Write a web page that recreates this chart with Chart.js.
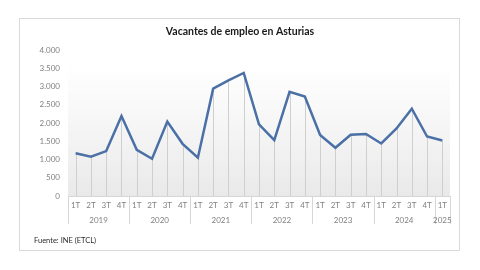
<!DOCTYPE html>
<html lang="es">
<head>
<meta charset="utf-8">
<title>Vacantes de empleo en Asturias</title>
<script src="https://cdn.jsdelivr.net/npm/chart.js@4.4.1/dist/chart.umd.min.js"></script>
<style>
  html, body { margin: 0; padding: 0; background: #ffffff; }
  .wrap { position: relative; width: 480px; height: 270px; }
  .frame { position: absolute; left: 19px; top: 18px; width: 441px; height: 233px; border: 1px solid #dadada; box-sizing: border-box; }
  canvas { position: absolute; left: 0; top: 0; }
</style>
</head>
<body>
<div class="wrap">
  <div class="frame"></div>
  <canvas id="chart" width="480" height="270"></canvas>
</div>
<script>
const quarters = ["1T", "2T", "3T", "4T", "1T", "2T", "3T", "4T", "1T", "2T", "3T", "4T",
  "1T", "2T", "3T", "4T", "1T", "2T", "3T", "4T", "1T", "2T", "3T", "4T", "1T"];
const years = ["2019", "2020", "2021", "2022", "2023", "2024", "2025"];
const quartersPerYear = [4, 4, 4, 4, 4, 4, 1];
const vacancies = [1170, 1075, 1230, 2190, 1265, 1020, 2040, 1430, 1050, 2940, 3170, 3370,
  1960, 1530, 2855, 2725, 1670, 1320, 1680, 1700, 1440, 1850, 2390, 1630, 1520];
const yTicks = [0, 500, 1000, 1500, 2000, 2500, 3000, 3500, 4000];
const chartTitle = "Vacantes de empleo en Asturias";
const sourceNote = "Fuente: INE (ETCL)";

const FONT = "Lato, 'Open Sans', sans-serif";
const lineColor = "#4a70a6";
const tickColor = "#808080";

function formatThousands(value) {
  return String(value).replace(/\B(?=(\d{3})+(?!\d))/g, ".");
}

// plot area gradient, white at top to light grey at the axis
const plotBackground = {
  id: "plotBackground",
  beforeDraw(chart) {
    const { ctx, chartArea } = chart;
    const top = chart.scales.y.getPixelForValue(3600);
    const grad = ctx.createLinearGradient(0, top, 0, chartArea.bottom);
    grad.addColorStop(0, "rgba(236,236,236,0)");
    grad.addColorStop(1, "#e9e9e9");
    ctx.save();
    ctx.fillStyle = grad;
    ctx.fillRect(chartArea.left, top, chartArea.right - chartArea.left, chartArea.bottom - top);
    ctx.restore();
  }
};

// vertical drop lines from each point to the axis
const dropLines = {
  id: "dropLines",
  beforeDatasetsDraw(chart) {
    const { ctx, chartArea } = chart;
    const points = chart.getDatasetMeta(0).data;
    ctx.save();
    ctx.strokeStyle = "#cfcfcf";
    ctx.lineWidth = 1;
    points.forEach((pt) => {
      const x = Math.round(pt.x) + 0.5;
      ctx.beginPath();
      ctx.moveTo(x, pt.y);
      ctx.lineTo(x, chartArea.bottom);
      ctx.stroke();
    });
    ctx.restore();
  }
};

// year labels under the quarters, with separators between the groups
const yearGroups = {
  id: "yearGroups",
  afterDraw(chart) {
    const { ctx, chartArea } = chart;
    const xScale = chart.scales.x;
    const bottom = xScale.bottom;
    const edge = (i) => {
      if (i <= 0) return chartArea.left;
      if (i >= quarters.length) return chartArea.right;
      return (xScale.getPixelForValue(i - 1) + xScale.getPixelForValue(i)) / 2;
    };
    ctx.save();
    ctx.strokeStyle = "#d6d6d6";
    ctx.lineWidth = 1;
    ctx.fillStyle = tickColor;
    ctx.font = "8px " + FONT;
    ctx.textAlign = "center";
    ctx.textBaseline = "middle";
    let start = 0;
    years.forEach((year, k) => {
      const end = start + quartersPerYear[k];
      const x0 = edge(start);
      const x1 = edge(end);
      [x0, x1].forEach((x) => {
        const px = Math.round(x) + 0.5;
        ctx.beginPath();
        ctx.moveTo(px, chartArea.bottom);
        ctx.lineTo(px, bottom);
        ctx.stroke();
      });
      ctx.fillText(year, (x0 + x1) / 2, chartArea.bottom + 24);
      start = end;
    });
    ctx.restore();
  }
};

// title centred on the frame, and the source note in the bottom left
const titleAndSource = {
  id: "titleAndSource",
  afterDraw(chart) {
    const { ctx } = chart;
    ctx.save();
    ctx.fillStyle = "#1a1a1a";
    ctx.font = "bold 10.5px " + FONT;
    ctx.textAlign = "center";
    ctx.textBaseline = "middle";
    ctx.fillText(chartTitle, 240, 32);
    ctx.fillStyle = "#2b2b2b";
    ctx.font = "7.5px " + FONT;
    ctx.textAlign = "left";
    ctx.fillText(sourceNote, 34, 241);
    ctx.restore();
  }
};

new Chart(document.getElementById("chart"), {
  type: "line",
  data: {
    labels: quarters,
    datasets: [
      {
        label: "Vacantes",
        data: vacancies,
        borderColor: lineColor,
        borderWidth: 2.5,
        pointRadius: 0,
        tension: 0,
        fill: false
      }
    ]
  },
  options: {
    responsive: false,
    animation: false,
    layout: {
      padding: { left: 0, right: 30, top: 50, bottom: 46 }
    },
    plugins: {
      legend: { display: false },
      tooltip: { enabled: false },
      title: { display: false }
    },
    scales: {
      x: {
        offset: true,
        grid: { display: false, drawTicks: false },
        border: { display: true, color: "#d6d6d6", width: 1 },
        ticks: {
          color: tickColor,
          font: { family: FONT, size: 8 },
          padding: 5,
          maxRotation: 0,
          autoSkip: false
        },
        afterFit(scale) {
          scale.height = 28;
        }
      },
      y: {
        min: 0,
        max: 4000,
        afterBuildTicks(scale) {
          scale.ticks = yTicks.map((v) => ({ value: v }));
        },
        grid: { display: false, drawTicks: false },
        border: { display: false },
        ticks: {
          color: tickColor,
          font: { family: FONT, size: 8 },
          padding: 8,
          callback(value) {
            return formatThousands(value);
          }
        },
        afterFit(scale) {
          scale.width = 68;
        }
      }
    }
  },
  plugins: [plotBackground, dropLines, yearGroups, titleAndSource]
});
</script>
</body>
</html>
